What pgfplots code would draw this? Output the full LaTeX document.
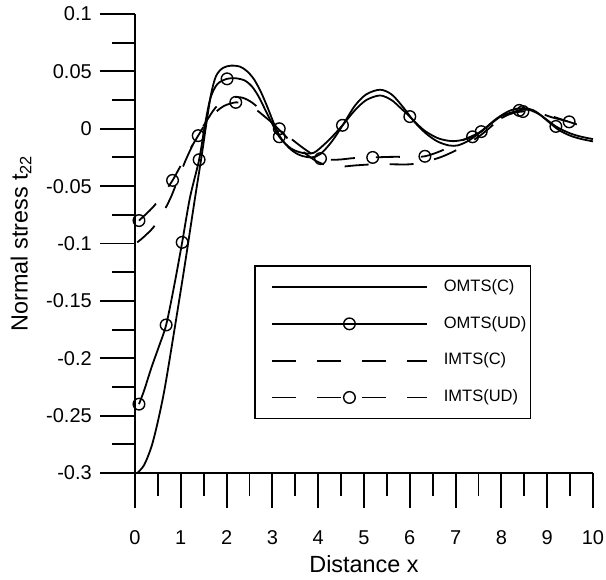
\documentclass[border=0pt]{standalone}
\usepackage{pgfplots}
\usepackage{pgfplotstable}
\pgfplotsset{compat=1.18}
\usepackage{fontspec}
\setmainfont{Liberation Sans}

\pgfplotstableread{
x y
0.05 -0.300
0.2 -0.293
0.36 -0.277
0.5 -0.255
0.65 -0.226
0.87 -0.173
1.09 -0.118
1.3 -0.063
1.45 -0.025
1.56 0.005
1.66 0.030
1.77 0.046
1.92 0.053
2.1 0.055
2.3 0.054
2.45 0.050
2.6 0.043
2.75 0.032
2.9 0.018
3.05 0.003
3.2 -0.009
3.4 -0.018
3.6 -0.023
3.85 -0.025
4.05 -0.022
4.3 -0.011
4.55 0.004
4.8 0.020
5.05 0.030
5.35 0.034
5.6 0.030
5.85 0.019
6.1 0.006
6.35 -0.004
6.6 -0.011
6.85 -0.0145
7.05 -0.0145
7.3 -0.010
7.6 -0.001
7.9 0.009
8.2 0.016
8.5 0.018
8.75 0.015
9.0 0.007
9.25 -0.001
9.5 -0.006
9.75 -0.009
10.0 -0.011
}\omtsc

\pgfplotstableread{
x y
0.087 -0.240
0.2 -0.228
0.36 -0.208
0.52 -0.190
0.68 -0.171
0.85 -0.138
1.03 -0.099
1.2 -0.060
1.40 -0.027
1.53 0.004
1.65 0.027
1.8 0.039
2.01 0.0435
2.2 0.044
2.4 0.042
2.55 0.037
2.7 0.028
2.9 0.012
3.15 -0.007
3.4 -0.017
3.65 -0.021
3.9 -0.021
4.15 -0.013
4.35 -0.005
4.53 0.003
4.8 0.016
5.05 0.025
5.35 0.029
5.6 0.025
5.8 0.018
6.0 0.0106
6.3 -0.001
6.6 -0.008
6.85 -0.0105
7.05 -0.0105
7.37 -0.007
7.7 0.002
8.0 0.011
8.39 0.016
8.6 0.0165
8.85 0.012
9.19 0.002
9.5 -0.004
9.75 -0.007
10.0 -0.009
}\omtsud

\pgfplotstableread{
x y
0.087 -0.240
0.68 -0.171
1.03 -0.099
1.40 -0.027
2.01 0.0435
3.15 -0.007
4.53 0.003
6.0 0.0106
7.37 -0.007
8.39 0.016
9.19 0.002
}\omtsudmarks

\pgfplotstableread{
x y
0.05 -0.099
0.2 -0.094
0.4 -0.086
0.6 -0.074
0.78 -0.060
0.95 -0.043
1.1 -0.028
1.25 -0.015
1.4 -0.004
1.55 0.006
1.75 0.018
1.95 0.025
2.15 0.0275
2.35 0.027
2.55 0.023
2.75 0.016
2.95 0.007
3.15 -0.001
3.45 -0.013
3.7 -0.021
3.95 -0.028
4.2 -0.032
4.5 -0.033
4.8 -0.032
5.2 -0.031
5.6 -0.031
6.0 -0.031
6.3 -0.029
6.66 -0.025
7.0 -0.019
7.31 -0.012
7.6 -0.004
7.9 0.006
8.2 0.013
8.5 0.017
8.8 0.015
9.1 0.011
9.4 0.007
9.78 0.002
}\imtsc

\pgfplotstableread{
x y
0.087 -0.080
0.25 -0.074
0.4 -0.068
0.6 -0.058
0.82 -0.045
1.0 -0.032
1.2 -0.018
1.38 -0.006
1.55 0.005
1.75 0.014
1.95 0.020
2.2 0.023
2.4 0.022
2.6 0.018
2.85 0.010
3.15 0.000
3.45 -0.010
3.75 -0.019
4.05 -0.026
4.4 -0.027
4.8 -0.0255
5.19 -0.025
5.6 -0.0245
6.0 -0.0245
6.33 -0.024
6.7 -0.019
7.1 -0.011
7.56 -0.0025
7.9 0.007
8.2 0.013
8.47 0.015
8.8 0.014
9.1 0.010
9.48 0.006
9.78 0.002
}\imtsud

\pgfplotstableread{
x y
0.087 -0.080
0.82 -0.045
1.38 -0.006
2.2 0.023
3.15 0.000
4.05 -0.026
5.19 -0.025
6.33 -0.024
7.56 -0.0025
8.47 0.015
9.48 0.006
}\imtsudmarks

\begin{document}
\begin{tikzpicture}
\begin{axis}[
  at={(0pt,0pt)}, anchor=south west,
  scale only axis, width=458pt, height=459pt,
  xmin=0, xmax=10, ymin=-0.3, ymax=0.1,
  axis x line=bottom, axis y line=left,
  axis line style={-, line width=1.9pt, black},
  tick align=outside,
  major tick length=35pt, minor tick length=23pt,
  tick style={line width=1.9pt, black},
  xtick={0,1,2,3,4,5,6,7,8,9,10},
  xticklabels={0,1,2,3,4,5,6,7,8,9,10},
  minor xtick={0.5,1.5,2.5,3.5,4.5,5.5,6.5,7.5,8.5,9.5},
  ytick={-0.3,-0.25,-0.2,-0.15,-0.1,-0.05,0,0.05,0.1},
  yticklabels={-0.3,-0.25,-0.2,-0.15,-0.1,-0.05,0,0.05,0.1},
  minor ytick={-0.275,-0.225,-0.175,-0.125,-0.075,-0.025,0.025,0.075},
  tick label style={font=\fontsize{20}{24}\selectfont, inner sep=0pt},
  xticklabel style={anchor=center, yshift=-30pt},
  yticklabel style={anchor=east, xshift=-8pt},
  xlabel={Distance x},
  ylabel={Normal stress t\textsubscript{22}},
  every axis x label/.style={at={(axis description cs:0.5,0)}, yshift=-91pt, anchor=center, font=\fontsize{23.4}{28}\selectfont},
  every axis y label/.style={at={(axis description cs:0,0.5)}, xshift=-114pt, rotate=90, anchor=center, font=\fontsize{23.4}{28}\selectfont},
  clip=false,
  legend style={at={(axis description cs:0.2605,0.453)}, anchor=north west,
    draw=black, line width=1.5pt, font=\fontsize{16.5}{19}\selectfont,
    inner xsep=4pt, inner ysep=13pt, row sep=20.3pt,
    nodes={inner sep=0pt, text height=12.5pt, text depth=4pt}},
  legend cell align=left,
]
\addplot[black, line width=1.8pt, smooth, mark=none,
  legend image code/.code={\path (0pt,0pt) (183pt,0pt); \draw[black, line width=1.8pt] (12pt,0pt) -- (167pt,0pt);}]
  table {\omtsc};
\addlegendentry{OMTS(C)}
\addplot[black, line width=1.8pt, smooth, mark=none,
  legend image code/.code={\path (0pt,0pt) (183pt,0pt); \draw[black, line width=1.8pt] (12pt,0pt) -- (167pt,0pt); \draw[black, line width=1.4pt] (89.5pt,0pt) circle (5.8pt);}]
  table {\omtsud};
\addlegendentry{OMTS(UD)}
\addplot[black, line width=1.8pt, smooth, mark=none, dash pattern=on 24pt off 21pt,
  legend image code/.code={\path (0pt,0pt) (183pt,0pt); \draw[black, line width=1.8pt, dash pattern=on 24pt off 21pt] (12pt,0pt) -- (167pt,0pt);}]
  table {\imtsc};
\addlegendentry{IMTS(C)}
\addplot[black, line width=1.8pt, smooth, mark=none, dash pattern=on 24pt off 21pt,
  legend image code/.code={\path (0pt,0pt) (183pt,0pt); \draw[black, line width=1.8pt, dash pattern=on 24pt off 21pt] (12pt,0pt) -- (167pt,0pt); \draw[black, line width=1.4pt, solid] (89.5pt,0pt) circle (5.8pt);}]
  table {\imtsud};
\addlegendentry{IMTS(UD)}
\addplot[black, only marks, mark=o, mark size=5.8pt, mark options={line width=1.4pt, solid}, forget plot]
  table {\omtsudmarks};
\addplot[black, only marks, mark=o, mark size=5.8pt, mark options={line width=1.4pt, solid}, forget plot]
  table {\imtsudmarks};
\end{axis}
\pgfresetboundingbox
\useasboundingbox (-135pt,-107pt) rectangle (471pt,473pt);
\end{tikzpicture}
\end{document}
